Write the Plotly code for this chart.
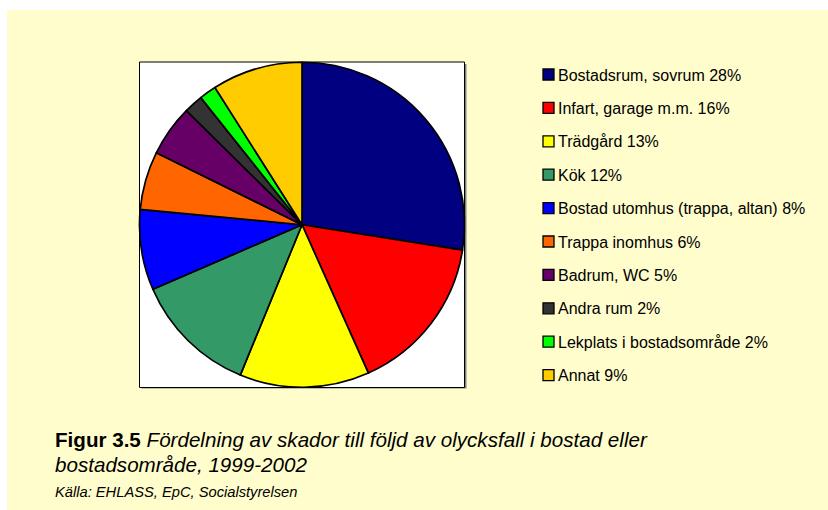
import plotly.graph_objects as go

# ---- data ----
categories = [
    "Bostadsrum, sovrum",
    "Infart, garage m.m.",
    "Trädgård",
    "Kök",
    "Bostad utomhus (trappa, altan)",
    "Trappa inomhus",
    "Badrum, WC",
    "Andra rum",
    "Lekplats i bostadsområde",
    "Annat",
]
shares = [27.5, 15.8, 12.9, 12.3, 8.0, 5.8, 5.1, 1.9, 1.7, 9.0]
pct_labels = ["28%", "16%", "13%", "12%", "8%", "6%", "5%", "2%", "2%", "9%"]
colors = ["#000080", "#FF0000", "#FFFF00", "#339966", "#0000FF",
          "#FF6600", "#660066", "#333333", "#00FF00", "#FFCC00"]

W, H = 828, 510
FONT = "Arial, 'Liberation Sans', sans-serif"


def px(x):
    return x / W


def py(y):
    return 1 - y / H


# plot frame (pixels)
bx0, bx1, by0, by1 = 139.5, 464.5, 62.0, 387.5

fig = go.Figure()
fig.add_trace(go.Pie(
    labels=categories,
    values=shares,
    sort=False,
    direction="clockwise",
    rotation=0,
    textinfo="none",
    hoverinfo="label+percent",
    marker=dict(colors=colors, line=dict(color="#000000", width=1.7)),
    domain=dict(x=[px(bx0), px(bx1)], y=[py(by1), py(by0)]),
    showlegend=False,
))

shapes = [
    # yellow page background
    dict(type="rect", xref="paper", yref="paper", x0=px(7), x1=1.0, y0=0.0, y1=py(10),
         fillcolor="#FFFDCC", line=dict(width=0), layer="below"),
    # shadow of frame
    dict(type="rect", xref="paper", yref="paper", x0=px(bx0 + 2), x1=px(bx1 + 2),
         y0=py(by1 + 1), y1=py(by0 + 2), fillcolor="#808080", line=dict(width=0), layer="below"),
    # white frame
    dict(type="rect", xref="paper", yref="paper", x0=px(bx0), x1=px(bx1),
         y0=py(by1), y1=py(by0), fillcolor="#FFFFFF", line=dict(color="#000000", width=1),
         layer="below"),
]

annotations = []
# custom legend
lx0, lx1 = 543, 554
ly_first, ly_step = 74.5, 33.4
for i, (cat, pct, col) in enumerate(zip(categories, pct_labels, colors)):
    cy = ly_first + i * ly_step
    shapes.append(dict(type="rect", xref="paper", yref="paper",
                       x0=px(lx0), x1=px(lx1), y0=py(cy + 5.5), y1=py(cy - 5.5),
                       fillcolor=col, line=dict(color="#000000", width=1.3)))
    annotations.append(dict(xref="paper", yref="paper", x=px(556), y=py(cy + 0.5),
                            xanchor="left", yanchor="middle", showarrow=False,
                            text=f"{cat} {pct}",
                            font=dict(family=FONT, size=16, color="#000000")))

# caption
annotations += [
    dict(xref="paper", yref="paper", x=px(53), y=py(439), xanchor="left", yanchor="middle",
         showarrow=False,
         text="<b>Figur 3.5</b> <i>Fördelning av skador till följd av olycksfall i bostad eller</i>",
         font=dict(family=FONT, size=20.6, color="#000000")),
    dict(xref="paper", yref="paper", x=px(53), y=py(464), xanchor="left", yanchor="middle",
         showarrow=False,
         text="<i>bostadsområde, 1999-2002</i>",
         font=dict(family=FONT, size=20.6, color="#000000")),
    dict(xref="paper", yref="paper", x=px(53), y=py(492), xanchor="left", yanchor="middle",
         showarrow=False,
         text="<i>Källa: EHLASS, EpC, Socialstyrelsen</i>",
         font=dict(family=FONT, size=14.7, color="#000000")),
]

fig.update_layout(
    width=W, height=H,
    margin=dict(l=0, r=0, t=0, b=0),
    paper_bgcolor="#FFFFFF",
    plot_bgcolor="rgba(0,0,0,0)",
    shapes=shapes,
    annotations=annotations,
    showlegend=False,
)

fig.write_html("out.html",
               config={"displayModeBar": False},
               post_script="document.body.style.margin='0';document.body.style.overflow='hidden';")
